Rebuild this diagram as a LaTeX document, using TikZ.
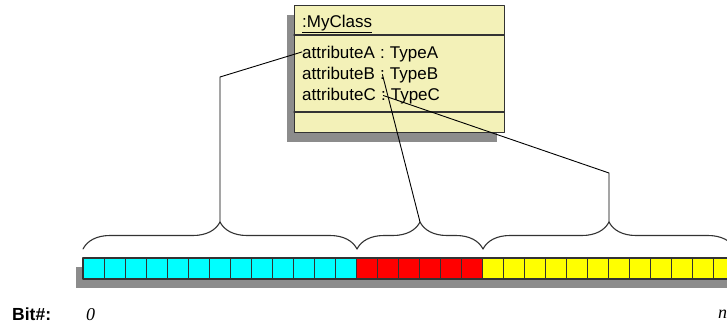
\documentclass[tikz,border=0pt]{standalone}
\usepackage{fontspec}
\setmainfont{Liberation Sans}
\newfontfamily\bitfont{Liberation Serif}
\usetikzlibrary{decorations.pathreplacing,shadows}

\definecolor{notefill}{RGB}{243,241,184}
\definecolor{shadowgray}{RGB}{140,140,140}
\definecolor{edgegray}{RGB}{51,51,51}
\definecolor{fieldcyan}{RGB}{0,255,255}
\definecolor{fieldred}{RGB}{255,0,0}
\definecolor{fieldyellow}{RGB}{255,255,0}

\tikzset{
  classbox/.style={draw=edgegray, line width=1.2pt, fill=notefill,
    drop shadow={shadow xshift=-8pt, shadow yshift=-9pt, fill=shadowgray, opacity=1}},
  attrtext/.style={anchor=base west, inner sep=0pt, font=\fontsize{17}{17}\selectfont},
  bitcell/.style={draw=edgegray, line width=0.9pt},
  fieldbrace/.style={decorate, decoration={brace, amplitude=27pt}, draw=edgegray, line width=1.1pt},
  link/.style={draw=black, line width=0.9pt}
}

\begin{document}
\begin{tikzpicture}[x=1pt, y=-1pt, line cap=round, line join=round]

  %% ════ 类框 :MyClass ════
  \node[classbox, anchor=north west, minimum width=210, minimum height=127, inner sep=0pt] (cls) at (294,5) {};
  \draw[edgegray, line width=1.1pt] (294,35) -- (504,35);
  \draw[edgegray, line width=1.1pt] (294,112) -- (504,112);
  \node[attrtext] (clsname) at (302,27) {\underline{:MyClass}};

  % 每行拆成 名字 / 冒号 / 类型，连线从冒号出发
  \foreach \n/\y in {A/58, B/79, C/100} {
    \node[attrtext] (name\n) at (302,\y) {attribute\n};
    \node[attrtext] (col\n) at ([xshift=4.7pt]name\n.base east) {:};
    \node[attrtext] (type\n) at ([xshift=4.7pt]col\n.base east) {Type\n};
  }

  %% ════ 位串（阴影在下）════
  \fill[shadowgray] (76,267) rectangle (728,288);
  \foreach \first/\last/\col in {0/12/fieldcyan, 13/18/fieldred, 19/30/fieldyellow} {
    \foreach \i in {\first,...,\last}
      \draw[bitcell, fill=\col] ({83+21*\i},258) rectangle ++(21,21);
  }
  \draw[edgegray, line width=1.4pt] (83,258) rectangle (735,279);

  %% ════ 花括号与尖端 ════
  \draw[fieldbrace] (83,249) -- (357,249);
  \draw[fieldbrace] (357,249) -- (483,249);
  \draw[fieldbrace] (483,249) -- (735,249);
  \coordinate (tipA) at (220,222);
  \coordinate (tipB) at (420,222);
  \coordinate (tipC) at (609,222);
  \coordinate (kinkA) at (220,77);
  \coordinate (kinkC) at (609,173);

  %% ════ 连线 ════
  \draw[link] (nameA.west) -- (kinkA) -- (tipA);
  \draw[link] (colB.center) -- (tipB);
  \draw[link] (colC.center) -- (kinkC) -- (tipC);

  %% ════ 位号 ════
  \node[attrtext, font=\fontsize{17.5}{17.5}\selectfont\bfseries] (bitlbl) at (12,320) {Bit\#:};
  \node[attrtext, font=\fontsize{18}{18}\bitfont\itshape] (bitlo) at (86,320) {0};
  \node[attrtext, font=\fontsize{18}{18}\bitfont\itshape] (bithi) at (718,318) {n};

  % 钉死画布，右端被裁掉的格子不撑大页面
  \pgfresetboundingbox
  \path[use as bounding box] (0,0) rectangle (727,324);
\end{tikzpicture}
\end{document}
